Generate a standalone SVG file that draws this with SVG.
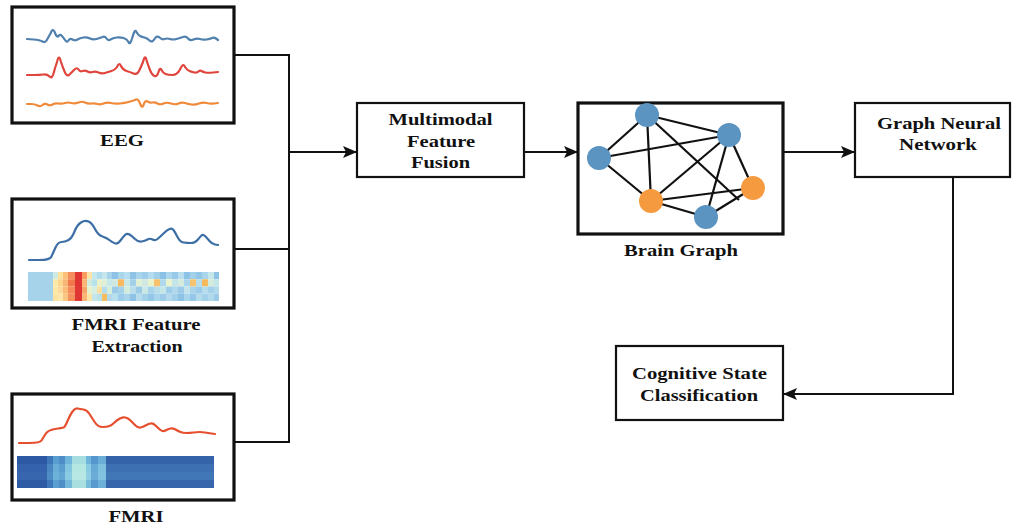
<svg xmlns="http://www.w3.org/2000/svg" width="1013" height="526" viewBox="0 0 1013 526">
<style>
.box{fill:#fff;stroke:#111;stroke-width:2.2}
.tbox{fill:#fff;stroke:#111;stroke-width:3.2}
.lbl{font-family:"Liberation Serif","Times New Roman",serif;font-weight:bold;font-size:17.5px;fill:#111;text-anchor:middle}
.conn{fill:none;stroke:#111;stroke-width:2}
.edge{stroke:#111;stroke-width:2.2}
.bn{fill:#5b93c1}
.on{fill:#f59a3e}
.wave{fill:none;stroke-width:2.2;stroke-linejoin:round;stroke-linecap:round}
</style>
<defs>
<marker id="ah" markerWidth="14" markerHeight="12" refX="13" refY="6" orient="auto" markerUnits="userSpaceOnUse">
<path d="M0,0 L14,6 L0,12 L3,6 Z" fill="#111"/>
</marker>
<filter id="soft" x="-5%" y="-20%" width="110%" height="140%">
<feGaussianBlur stdDeviation="0.5"/>
</filter>
</defs>
<rect width="1013" height="526" fill="#fff"/>

<g id="eeg">
<rect class="tbox" x="12" y="7" width="222" height="116"/>
<g filter="url(#soft)">
<path class="wave" stroke="#4f80ae" d="M27,39 L33.5,39.5 Q40,40 42.5,41.5 Q45,43 46.5,40.5 Q48,38 50.5,33.5 Q53,27 55,33 Q57,38 58.5,36 Q60,34 61.5,35.5 Q63,37 65,40 Q67,43 68.5,40.5 Q70,38 72.5,39.5 Q75,41 77.5,39.5 Q80,38 83.5,37.5 Q87,37 90,38.5 Q93,40 96.5,39 Q100,38 102.5,37 Q105,36 106.5,38.5 Q108,41 110.5,39.5 Q113,38 116.5,37.5 Q120,37 123.5,38 Q127,39 128.5,42 Q130,46 132.5,37 Q135,28 136.5,32 Q138,35 140,36 Q142,37 144.5,37.5 Q147,38 149.5,40.5 Q152,43 154.5,39 Q157,35 159.5,37.5 Q162,40 164.5,39 Q167,38 170,39 Q173,40 176.5,39 Q180,38 183,37 Q186,36 188,38.5 Q190,41 193.5,39.5 Q197,38 200,39 Q203,40 206.5,39.5 Q210,39 212,38 Q214,37 216,38.5 L218,40"/>
<path class="wave" stroke="#e0443c" d="M27,75 L33.5,75 Q40,75 43.5,74.5 Q47,74 49.5,76.5 Q52,79 53.5,73.5 Q55,68 57,62 Q59,53 61,62 Q63,68 65,72.5 Q67,77 69.5,74.5 Q72,72 74.5,69.5 Q77,67 78.5,69.5 Q80,72 82.5,71 Q85,70 87.5,71.5 Q90,73 92.5,72 Q95,71 98.5,72.5 Q102,74 105,73 Q108,72 111.5,71 Q115,70 117,67 Q119,62 121,66 Q123,70 126.5,71 Q130,72 133.5,73.5 Q137,75 139,71 Q141,67 143,62 Q145,54 146.5,60 Q148,65 150,70 Q152,75 154.5,76 Q157,77 158.5,72 Q160,67 161.5,70 Q163,73 165.5,74 Q168,75 172.5,75 Q177,75 180,69.5 Q183,62 185,67 Q187,70 189.5,71 Q192,72 194.5,72.5 Q197,73 198.5,71.5 Q200,70 201.5,71 Q203,72 205.5,72.5 Q208,73 213,72.5 L218,72"/>
<path class="wave" stroke="#f08a3a" d="M27,104 L31,104 Q35,104 37.5,105.5 Q40,107 42.5,105 Q45,103 47.5,104.5 Q50,106 52.5,104.5 Q55,103 58.5,103.5 Q62,104 65,103 Q68,102 71.5,103 Q75,104 78.5,102.5 Q82,101 85,102.5 Q88,104 91.5,103.5 Q95,103 97.5,104 Q100,105 103.5,103.5 Q107,102 111,103 Q115,104 120,103.5 Q125,103 128.5,102 Q132,101 135,100 Q138,98 140,103.5 Q142,109 143.5,105 Q145,100 147.5,101.5 Q150,103 152.5,102.5 Q155,102 157.5,103.5 Q160,105 163.5,103.5 Q167,102 171,103.5 Q175,105 178.5,103.5 Q182,102 185,103 Q188,104 191.5,104.5 Q195,105 199,103.5 Q203,102 206.5,103 Q210,104 214,103.5 L218,103"/>
</g>
<text class="lbl" x="122" y="146" textLength="44" lengthAdjust="spacingAndGlyphs">EEG</text>
</g>

<g id="fmri-feature-extraction">
<rect class="tbox" x="12" y="199" width="222" height="109"/>
<path class="wave" stroke="#3d6ea6" stroke-width="3" filter="url(#soft)" d="M29,260 L39.5,260 Q50,260 51.5,256.5 Q53,253 55.5,247.5 Q58,242 61.5,242 Q65,242 68.5,240 Q72,238 74.5,231.5 Q77,225 81,222.5 Q85,220 88.5,221.5 Q92,223 95,229 Q98,235 102.5,236.5 Q107,238 110,240.5 Q113,243 115.5,243.5 Q118,244 120.5,240.5 Q123,237 125,235 Q127,233 129.5,234.5 Q132,236 135,239 Q138,242 141.5,241.5 Q145,241 147.5,239.5 Q150,238 152.5,239.5 Q155,241 157.5,239 Q160,237 163.5,233.5 Q167,230 169.5,229 Q172,228 173.5,230 Q175,232 177.5,237 Q180,242 183.5,242.5 Q187,243 191,243 Q195,243 197.5,240 Q200,237 201.5,235.5 Q203,234 205,236 Q207,238 209.5,241 Q212,244 215,244.5 L218,245"/>
<g id="heat1">
<rect x="28" y="272" width="25" height="29" fill="#a6d3ea"/>
<rect x="53" y="272" width="5" height="7.25" fill="#cfe9e4"/><rect x="53" y="279.25" width="5" height="7.25" fill="#fbe7a8"/><rect x="53" y="286.5" width="5" height="7.25" fill="#fde7a5"/><rect x="53" y="293.75" width="5" height="7.25" fill="#fbe3a2"/>
<rect x="58" y="272" width="5" height="7.25" fill="#fde29c"/><rect x="58" y="279.25" width="5" height="7.25" fill="#fbd58e"/><rect x="58" y="286.5" width="5" height="7.25" fill="#fcd99a"/><rect x="58" y="293.75" width="5" height="7.25" fill="#fde7aa"/>
<rect x="63" y="272" width="5" height="7.25" fill="#fbc07c"/><rect x="63" y="279.25" width="5" height="7.25" fill="#f9b576"/><rect x="63" y="286.5" width="5" height="7.25" fill="#faba78"/><rect x="63" y="293.75" width="5" height="7.25" fill="#fbc582"/>
<rect x="68" y="272" width="7" height="7.25" fill="#f68d5e"/><rect x="68" y="279.25" width="7" height="7.25" fill="#f2784c"/><rect x="68" y="286.5" width="7" height="7.25" fill="#f58a5a"/><rect x="68" y="293.75" width="7" height="7.25" fill="#f5905f"/>
<rect x="75" y="272" width="7" height="29" fill="#e03634"/>
<rect x="82" y="272" width="5" height="7.25" fill="#f89c62"/><rect x="82" y="279.25" width="5" height="7.25" fill="#fbb471"/><rect x="82" y="286.5" width="5" height="7.25" fill="#f9a467"/><rect x="82" y="293.75" width="5" height="7.25" fill="#fab577"/>
<rect x="87" y="272" width="5" height="7.25" fill="#fde3a5"/><rect x="87" y="279.25" width="5" height="7.25" fill="#cfeadf"/><rect x="87" y="286.5" width="5" height="7.25" fill="#e5f1cb"/><rect x="87" y="293.75" width="5" height="7.25" fill="#fde5a4"/>
<rect x="92" y="272" width="5" height="7.25" fill="#c4e6ee"/><rect x="92" y="279.25" width="5" height="7.25" fill="#b6e2ea"/><rect x="92" y="286.5" width="5" height="7.25" fill="#d6efe0"/><rect x="92" y="293.75" width="5" height="7.25" fill="#c2e6ea"/>
<rect x="97" y="272" width="5" height="7.25" fill="#b0dced"/><rect x="97" y="279.25" width="5" height="7.25" fill="#e8f1c9"/><rect x="97" y="286.5" width="5" height="7.25" fill="#fce0a0"/><rect x="97" y="293.75" width="5" height="7.25" fill="#b9e1ea"/>
<rect x="102" y="272" width="5" height="7.25" fill="#c6e6ec"/><rect x="102" y="279.25" width="5" height="7.25" fill="#ddefd8"/><rect x="102" y="286.5" width="5" height="7.25" fill="#b5dded"/><rect x="102" y="293.75" width="5" height="7.25" fill="#f6bc60"/>
<rect x="107" y="272" width="5" height="7.25" fill="#a6d3ea"/><rect x="107" y="279.25" width="5" height="7.25" fill="#c5e8e8"/><rect x="107" y="286.5" width="5" height="7.25" fill="#d7eed8"/><rect x="107" y="293.75" width="5" height="7.25" fill="#b0d9ec"/>
<rect x="112" y="272" width="6" height="7.25" fill="#8fc2e6"/><rect x="112" y="279.25" width="6" height="7.25" fill="#cfe9e0"/><rect x="112" y="286.5" width="6" height="7.25" fill="#9ccbe8"/><rect x="112" y="293.75" width="6" height="7.25" fill="#b8dfec"/>
<rect x="118" y="272" width="6" height="7.25" fill="#a9d6eb"/><rect x="118" y="279.25" width="6" height="7.25" fill="#f8b85e"/><rect x="118" y="286.5" width="6" height="7.25" fill="#a4d2ea"/><rect x="118" y="293.75" width="6" height="7.25" fill="#9cccea"/>
<rect x="124" y="272" width="6" height="7.25" fill="#b7def0"/><rect x="124" y="279.25" width="6" height="7.25" fill="#c8e8e7"/><rect x="124" y="286.5" width="6" height="7.25" fill="#d2ecdd"/><rect x="124" y="293.75" width="6" height="7.25" fill="#a7d4ea"/>
<rect x="130" y="272" width="6" height="7.25" fill="#8fc3e6"/><rect x="130" y="279.25" width="6" height="7.25" fill="#a3d1ea"/><rect x="130" y="286.5" width="6" height="7.25" fill="#b9dfea"/><rect x="130" y="293.75" width="6" height="7.25" fill="#8ec3e6"/>
<rect x="136" y="272" width="6" height="7.25" fill="#a8d4ec"/><rect x="136" y="279.25" width="6" height="7.25" fill="#dff0d4"/><rect x="136" y="286.5" width="6" height="7.25" fill="#9ccbe8"/><rect x="136" y="293.75" width="6" height="7.25" fill="#b7ddec"/>
<rect x="142" y="272" width="6" height="7.25" fill="#9ecdea"/><rect x="142" y="279.25" width="6" height="7.25" fill="#cfe9e2"/><rect x="142" y="286.5" width="6" height="7.25" fill="#c9e8e6"/><rect x="142" y="293.75" width="6" height="7.25" fill="#a3d1ea"/>
<rect x="148" y="272" width="6" height="7.25" fill="#b4dbee"/><rect x="148" y="279.25" width="6" height="7.25" fill="#e8f2cc"/><rect x="148" y="286.5" width="6" height="7.25" fill="#a7d4eb"/><rect x="148" y="293.75" width="6" height="7.25" fill="#93c6e7"/>
<rect x="154" y="272" width="6" height="7.25" fill="#a2cfe9"/><rect x="154" y="279.25" width="6" height="7.25" fill="#f8c06a"/><rect x="154" y="286.5" width="6" height="7.25" fill="#b8deeb"/><rect x="154" y="293.75" width="6" height="7.25" fill="#a8d5eb"/>
<rect x="160" y="272" width="6" height="7.25" fill="#8cc1e6"/><rect x="160" y="279.25" width="6" height="7.25" fill="#b0d9ec"/><rect x="160" y="286.5" width="6" height="7.25" fill="#c6e7e8"/><rect x="160" y="293.75" width="6" height="7.25" fill="#9dccea"/>
<rect x="166" y="272" width="6" height="7.25" fill="#abd6ec"/><rect x="166" y="279.25" width="6" height="7.25" fill="#e9f2cc"/><rect x="166" y="286.5" width="6" height="7.25" fill="#9ecdea"/><rect x="166" y="293.75" width="6" height="7.25" fill="#b2daec"/>
<rect x="172" y="272" width="6" height="7.25" fill="#98c9e8"/><rect x="172" y="279.25" width="6" height="7.25" fill="#c3e5e8"/><rect x="172" y="286.5" width="6" height="7.25" fill="#b0d8ec"/><rect x="172" y="293.75" width="6" height="7.25" fill="#a2d0ea"/>
<rect x="178" y="272" width="6" height="7.25" fill="#b9dfee"/><rect x="178" y="279.25" width="6" height="7.25" fill="#d3ecdf"/><rect x="178" y="286.5" width="6" height="7.25" fill="#9bcbe9"/><rect x="178" y="293.75" width="6" height="7.25" fill="#8fc3e6"/>
<rect x="184" y="272" width="6" height="7.25" fill="#8ec2e6"/><rect x="184" y="279.25" width="6" height="7.25" fill="#aad5eb"/><rect x="184" y="286.5" width="6" height="7.25" fill="#c2e4ea"/><rect x="184" y="293.75" width="6" height="7.25" fill="#a8d5eb"/>
<rect x="190" y="272" width="6" height="7.25" fill="#a4d1ea"/><rect x="190" y="279.25" width="6" height="7.25" fill="#f6c46e"/><rect x="190" y="286.5" width="6" height="7.25" fill="#a8d4eb"/><rect x="190" y="293.75" width="6" height="7.25" fill="#95c7e8"/>
<rect x="196" y="272" width="6" height="7.25" fill="#93c6e7"/><rect x="196" y="279.25" width="6" height="7.25" fill="#b8deec"/><rect x="196" y="286.5" width="6" height="7.25" fill="#9dccea"/><rect x="196" y="293.75" width="6" height="7.25" fill="#b3dbec"/>
<rect x="202" y="272" width="6" height="7.25" fill="#a8d5eb"/><rect x="202" y="279.25" width="6" height="7.25" fill="#f5b95c"/><rect x="202" y="286.5" width="6" height="7.25" fill="#b7ddec"/><rect x="202" y="293.75" width="6" height="7.25" fill="#a3d1ea"/>
<rect x="208" y="272" width="6" height="7.25" fill="#c5e7ea"/><rect x="208" y="279.25" width="6" height="7.25" fill="#d4ecdc"/><rect x="208" y="286.5" width="6" height="7.25" fill="#a4d1ea"/><rect x="208" y="293.75" width="6" height="7.25" fill="#b0d9ec"/>
<rect x="214" y="272" width="5" height="7.25" fill="#8fc3e6"/><rect x="214" y="279.25" width="5" height="7.25" fill="#c3e6e8"/><rect x="214" y="286.5" width="5" height="7.25" fill="#b2daec"/><rect x="214" y="293.75" width="5" height="7.25" fill="#9ccbe8"/>
</g>
<text class="lbl" x="136" y="330" textLength="129" lengthAdjust="spacingAndGlyphs">FMRI Feature</text>
<text class="lbl" x="137" y="352" textLength="91" lengthAdjust="spacingAndGlyphs">Extraction</text>
</g>

<g id="fmri">
<rect class="tbox" x="12" y="394" width="222" height="106"/>
<path class="wave" stroke="#e6502f" filter="url(#soft)" d="M19,443 L29.5,443 Q40,443 41.5,440.5 Q43,438 45.5,434 Q48,430 55,429 Q62,428 63.5,427.5 Q65,427 67.5,421 Q70,415 72.5,411.5 Q75,408 77.5,408.5 Q80,409 83.5,409.5 Q87,410 89.5,414 Q92,418 95,422.5 Q98,427 102.5,427 Q107,427 109.5,426 Q112,425 114.5,422.5 Q117,420 120,418.5 Q123,417 125.5,417.5 Q128,418 130.5,420.5 Q133,423 135.5,425.5 Q138,428 140.5,427.5 Q143,427 145.5,425.5 Q148,424 150.5,423.5 Q153,423 155.5,425.5 Q158,428 160.5,430 Q163,432 165.5,430.5 Q168,429 170.5,428.5 Q173,428 175.5,429.5 Q178,431 180.5,432 Q183,433 186.5,433 Q190,433 193.5,432.5 Q197,432 199.5,432 Q202,432 205,432.5 Q208,433 211.5,433.5 L215,434"/>
<g id="heat2">
<rect x="17" y="456" width="30" height="8" fill="#2d58a3"/><rect x="17" y="464" width="30" height="8" fill="#3462ac"/><rect x="17" y="472" width="30" height="8" fill="#3766ae"/><rect x="17" y="480" width="30" height="8" fill="#2f5aa4"/>
<rect x="47" y="456" width="6" height="8" fill="#3f78b8"/><rect x="47" y="464" width="6" height="8" fill="#4a86c2"/><rect x="47" y="472" width="6" height="8" fill="#4f8dc6"/><rect x="47" y="480" width="6" height="8" fill="#3f78b8"/>
<rect x="53" y="456" width="6" height="8" fill="#5a9dd1"/><rect x="53" y="464" width="6" height="8" fill="#69aed9"/><rect x="53" y="472" width="6" height="8" fill="#6db2da"/><rect x="53" y="480" width="6" height="8" fill="#5b9fd2"/>
<rect x="59" y="456" width="6" height="8" fill="#4d8cc6"/><rect x="59" y="464" width="6" height="8" fill="#5a9ed0"/><rect x="59" y="472" width="6" height="8" fill="#62a6d4"/><rect x="59" y="480" width="6" height="8" fill="#4f8fc7"/>
<rect x="65" y="456" width="7" height="8" fill="#6fb4da"/><rect x="65" y="464" width="7" height="8" fill="#82c6e0"/><rect x="65" y="472" width="7" height="8" fill="#89cbe2"/><rect x="65" y="480" width="7" height="8" fill="#74b8dc"/>
<rect x="72" y="456" width="14" height="8" fill="#a6dde0"/><rect x="72" y="464" width="14" height="8" fill="#b4e6e2"/><rect x="72" y="472" width="14" height="8" fill="#b8e8e3"/><rect x="72" y="480" width="14" height="8" fill="#aadfe0"/>
<rect x="86" y="456" width="5" height="8" fill="#6fb4da"/><rect x="86" y="464" width="5" height="8" fill="#88cae0"/><rect x="86" y="472" width="5" height="8" fill="#8fcee2"/><rect x="86" y="480" width="5" height="8" fill="#76badc"/>
<rect x="91" y="456" width="7" height="8" fill="#5596ce"/><rect x="91" y="464" width="7" height="8" fill="#67a9d6"/><rect x="91" y="472" width="7" height="8" fill="#6aacd7"/><rect x="91" y="480" width="7" height="8" fill="#5899cf"/>
<rect x="98" y="456" width="8" height="8" fill="#6aaed8"/><rect x="98" y="464" width="8" height="8" fill="#7ec0de"/><rect x="98" y="472" width="8" height="8" fill="#80c2df"/><rect x="98" y="480" width="8" height="8" fill="#6db1d9"/>
<rect x="106" y="456" width="108" height="8" fill="#3563a9"/><rect x="106" y="464" width="108" height="8" fill="#3d70b3"/><rect x="106" y="472" width="108" height="8" fill="#4277b7"/><rect x="106" y="480" width="108" height="8" fill="#3766ac"/>
</g>
<text class="lbl" x="136" y="522" textLength="55" lengthAdjust="spacingAndGlyphs">FMRI</text>
</g>

<g id="fusion">
<rect class="box" x="357" y="103" width="167" height="74"/>
<text class="lbl" x="440.5" y="125" textLength="104" lengthAdjust="spacingAndGlyphs">Multimodal</text>
<text class="lbl" x="441" y="147" textLength="68" lengthAdjust="spacingAndGlyphs">Feature</text>
<text class="lbl" x="440.5" y="168" textLength="59" lengthAdjust="spacingAndGlyphs">Fusion</text>
</g>

<g id="brain-graph">
<rect class="tbox" x="578" y="103" width="205" height="131"/>
<line class="edge" x1="647" y1="115" x2="599" y2="158"/>
<line class="edge" x1="647" y1="115" x2="729" y2="135"/>
<line class="edge" x1="647" y1="115" x2="651" y2="201"/>
<line class="edge" x1="647" y1="115" x2="739" y2="200"/>
<line class="edge" x1="599" y1="158" x2="729" y2="135"/>
<line class="edge" x1="599" y1="158" x2="651" y2="201"/>
<line class="edge" x1="651" y1="201" x2="729" y2="135"/>
<line class="edge" x1="651" y1="201" x2="753" y2="188"/>
<line class="edge" x1="651" y1="201" x2="706" y2="217"/>
<line class="edge" x1="729" y1="135" x2="706" y2="217"/>
<line class="edge" x1="729" y1="135" x2="753" y2="188"/>
<line class="edge" x1="706" y1="217" x2="753" y2="188"/>
<circle class="bn" cx="647" cy="115" r="12"/>
<circle class="bn" cx="729" cy="135" r="12"/>
<circle class="bn" cx="599" cy="158" r="12"/>
<circle class="on" cx="651" cy="201" r="12"/>
<circle class="on" cx="753" cy="188" r="12"/>
<circle class="bn" cx="706" cy="217" r="12"/>
<text class="lbl" x="681" y="256" textLength="114" lengthAdjust="spacingAndGlyphs">Brain Graph</text>
</g>

<g id="gnn">
<rect class="box" x="855" y="103" width="155" height="74"/>
<text class="lbl" x="939" y="129" textLength="124" lengthAdjust="spacingAndGlyphs">Graph Neural</text>
<text class="lbl" x="938" y="150" textLength="78" lengthAdjust="spacingAndGlyphs">Network</text>
</g>

<g id="classification">
<rect class="box" x="616" y="346" width="167" height="74"/>
<text class="lbl" x="699.5" y="379" textLength="135" lengthAdjust="spacingAndGlyphs">Cognitive State</text>
<text class="lbl" x="699" y="401" textLength="118" lengthAdjust="spacingAndGlyphs">Classification</text>
</g>

<g id="connectors">
<path class="conn" d="M234,55 H289 V442 H234"/>
<path class="conn" d="M234,249 H289"/>
<path class="conn" d="M289,152 H356" marker-end="url(#ah)"/>
<path class="conn" d="M524,152 H577" marker-end="url(#ah)"/>
<path class="conn" d="M783,152 H854" marker-end="url(#ah)"/>
<path class="conn" d="M953,177 V394 H784" marker-end="url(#ah)"/>
</g>
</svg>
